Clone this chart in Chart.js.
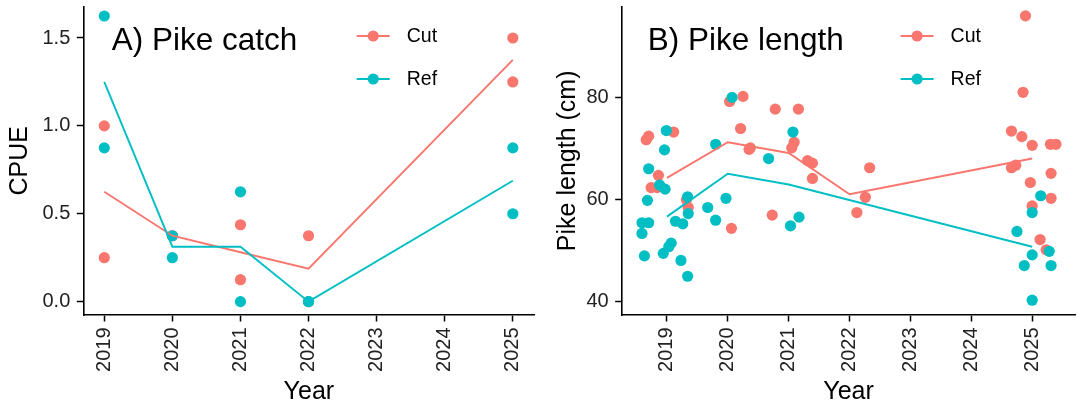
<!DOCTYPE html>
<html>
<head>
<meta charset="utf-8">
<title>Pike catch and length</title>
<script src="https://cdn.jsdelivr.net/npm/chart.js@4.4.1/dist/chart.umd.min.js"></script>
<style>
  html, body { margin: 0; padding: 0; background: #ffffff; }
  #wrap { position: relative; width: 1081px; height: 407px; overflow: hidden; }
  .panel { position: absolute; top: 0; height: 407px; }
  #catchPanel { left: 0; width: 540px; }
  #lengthPanel { left: 540px; width: 541px; }
</style>
</head>
<body>
<div id="wrap">
  <div class="panel" id="catchPanel"><canvas id="catchChart"></canvas></div>
  <div class="panel" id="lengthPanel"><canvas id="lengthChart"></canvas></div>
</div>
<script>
// ---- data ----
const groupNames = ['Cut', 'Ref'];
const yearTicks = [2019, 2020, 2021, 2022, 2023, 2024, 2025];

// A) CPUE per sampling, two per group and year
const catchYears = [2019, 2019, 2020, 2020, 2021, 2021, 2022, 2022, 2025, 2025];
const catchCut = [1.0, 0.25, 0.375, 0.375, 0.4375, 0.125, 0.375, 0.0, 1.5, 1.25];
const catchRef = [1.625, 0.875, 0.375, 0.25, 0.625, 0.0, 0.0, 0.0, 0.875, 0.5];
const catchMeanYears = [2019, 2020, 2021, 2022, 2025];
const catchMeanCut = [0.625, 0.375, 0.28125, 0.1875, 1.375];
const catchMeanRef = [1.25, 0.3125, 0.3125, 0.0, 0.6875];
const catchTicks = [0, 0.5, 1.0, 1.5];

// B) individual pike lengths (x jittered around the year)
const lengthCutX = [2018.66, 2018.70, 2019.11, 2018.86, 2018.74, 2018.84, 2019.32, 2019.35,
  2020.03, 2020.06, 2020.25, 2020.21, 2020.35, 2020.37,
  2020.78, 2021.16, 2021.09, 2021.05, 2021.31, 2021.39, 2021.39, 2020.73,
  2022.12, 2022.26, 2022.33,
  2024.89, 2024.85, 2024.66, 2024.83, 2025.00, 2025.30, 2025.39, 2024.66, 2024.73,
  2025.31, 2024.97, 2025.31, 2025.00, 2025.13, 2025.23];
const lengthCut = [71.7, 72.4, 73.2, 64.7, 62.3, 62.3, 59.9, 58.4,
  79.2, 54.3, 80.2, 73.9, 69.8, 70.1,
  77.7, 77.7, 71.2, 70.1, 67.6, 67.1, 64.1, 56.9,
  57.4, 60.4, 66.2,
  96.0, 81.0, 73.4, 72.3, 70.6, 70.8, 70.8, 66.2, 66.7,
  65.1, 63.3, 60.2, 58.7, 52.1, 50.1];
const lengthRefX = [2018.99, 2018.96, 2018.70, 2018.88, 2018.97, 2018.68, 2018.59, 2018.70,
  2018.59, 2018.63, 2019.34, 2019.35, 2019.14, 2019.26, 2019.07, 2019.03, 2018.94,
  2019.23, 2019.34,
  2019.67, 2019.80, 2019.80, 2019.97, 2020.07,
  2021.07, 2020.67, 2021.03, 2021.17,
  2025.14, 2025.00, 2024.75, 2025.00, 2025.28, 2024.87, 2025.31, 2025.00];
const lengthRef = [73.5, 69.7, 66.0, 62.8, 62.0, 59.8, 55.4, 55.4,
  53.3, 48.9, 60.5, 57.2, 55.7, 55.2, 51.4, 50.7, 49.4,
  48.0, 44.9,
  58.4, 70.8, 55.9, 60.2, 80.0,
  73.2, 68.0, 54.8, 56.5,
  60.7, 57.4, 53.7, 49.1, 49.8, 47.0, 47.0, 40.2];
const lengthMeanCutYears = [2019, 2020, 2021, 2022, 2025];
const lengthMeanCut = [64.2, 71.2, 69.1, 61.0, 68.0];
const lengthMeanRefYears = [2019, 2020, 2021, 2025];
const lengthMeanRef = [56.6, 65.0, 62.9, 50.7];
const lengthTicks = [40, 60, 80];

// ---- styling ----
const CUT_COLOR = '#F8766D';
const REF_COLOR = '#00BFC4';
const FONT = "'Liberation Sans', Arial, Helvetica, sans-serif";

function toXY(xs, ys) {
    return xs.map((x, i) => ({ x: x, y: ys[i] }));
}

// Panel title and legend drawn inside the plotting area (ggplot style)
const insideLabels = {
    id: 'insideLabels',
    afterDraw(chart, args, opts) {
        const ctx = chart.ctx;
        const area = chart.chartArea;
        ctx.save();
        ctx.fillStyle = '#000';
        ctx.font = '31.5px ' + FONT;
        ctx.textAlign = 'left';
        ctx.textBaseline = 'alphabetic';
        ctx.fillText(opts.title, area.left + opts.titleOffset, 49.5);

        const colors = [CUT_COLOR, REF_COLOR];
        const rows = [36, 79];
        groupNames.forEach((name, i) => {
            const x0 = area.left + opts.legendOffset;
            const y = rows[i];
            ctx.strokeStyle = colors[i];
            ctx.lineWidth = 1.8;
            ctx.beginPath();
            ctx.moveTo(x0, y);
            ctx.lineTo(x0 + 33, y);
            ctx.stroke();
            ctx.fillStyle = colors[i];
            ctx.beginPath();
            ctx.arc(x0 + 16.5, y, 5.6, 0, Math.PI * 2);
            ctx.fill();
            ctx.fillStyle = '#000';
            ctx.font = '19.5px ' + FONT;
            ctx.textBaseline = 'middle';
            ctx.fillText(name, x0 + 50, y + 1);
        });
        ctx.restore();
    }
};

function makePanel(canvasId, p) {
    const ctx = document.getElementById(canvasId);
    return new Chart(ctx, {
        type: 'scatter',
        data: {
            datasets: [
                {
                    label: 'Cut mean',
                    data: toXY(p.meanCutX, p.meanCut),
                    showLine: true,
                    borderColor: CUT_COLOR,
                    borderWidth: 1.9,
                    pointRadius: 0,
                    order: 1
                },
                {
                    label: 'Ref mean',
                    data: toXY(p.meanRefX, p.meanRef),
                    showLine: true,
                    borderColor: REF_COLOR,
                    borderWidth: 1.9,
                    pointRadius: 0,
                    order: 0
                },
                {
                    label: 'Ref',
                    data: toXY(p.refX, p.ref),
                    backgroundColor: REF_COLOR,
                    borderWidth: 0,
                    pointRadius: 5.6,
                    order: 2
                },
                {
                    label: 'Cut',
                    data: toXY(p.cutX, p.cut),
                    backgroundColor: CUT_COLOR,
                    borderWidth: 0,
                    pointRadius: 5.6,
                    order: 3
                }
            ]
        },
        options: {
            responsive: true,
            maintainAspectRatio: false,
            animation: false,
            events: [],
            clip: false,
            layout: {
                padding: { top: 6.7, right: p.padRight, left: 0, bottom: 0 }
            },
            plugins: {
                legend: { display: false },
                tooltip: { enabled: false },
                insideLabels: {
                    title: p.title,
                    titleOffset: p.titleOffset,
                    legendOffset: p.legendOffset
                }
            },
            scales: {
                x: {
                    type: 'linear',
                    min: p.xMin,
                    max: p.xMax,
                    afterBuildTicks: axis => { axis.ticks = yearTicks.map(v => ({ value: v })); },
                    afterFit: axis => {
                        axis.height = 92;
                        axis.paddingLeft = 0;
                        axis.paddingRight = 0;
                    },
                    ticks: {
                        minRotation: 90,
                        maxRotation: 90,
                        autoSkip: false,
                        padding: 6,
                        color: '#222',
                        font: { family: FONT, size: 20 },
                        callback: v => String(v)
                    },
                    grid: {
                        drawOnChartArea: false,
                        drawTicks: true,
                        tickLength: 6.5,
                        tickWidth: 1.5,
                        color: '#000'
                    },
                    border: { display: true, color: '#000', width: 1.6 },
                    title: {
                        display: true,
                        text: 'Year',
                        color: '#000',
                        font: { family: FONT, size: 25 },
                        padding: { top: 0, bottom: 0 }
                    }
                },
                y: {
                    type: 'linear',
                    min: p.yMin,
                    max: p.yMax,
                    afterBuildTicks: axis => { axis.ticks = p.yTicks.map(v => ({ value: v })); },
                    afterFit: axis => {
                        axis.width = p.yAxisWidth;
                        axis.paddingTop = 0;
                        axis.paddingBottom = 0;
                    },
                    ticks: {
                        padding: 6.5,
                        color: '#222',
                        font: { family: FONT, size: 20 },
                        callback: p.yFormat
                    },
                    grid: {
                        drawOnChartArea: false,
                        drawTicks: true,
                        tickLength: 6.5,
                        tickWidth: 1.5,
                        color: '#000'
                    },
                    border: { display: true, color: '#000', width: 1.6 },
                    title: {
                        display: true,
                        text: p.yTitle,
                        color: '#000',
                        font: { family: FONT, size: 25 },
                        padding: { top: p.yTitlePad, bottom: 0 }
                    }
                }
            }
        },
        plugins: [insideLabels]
    });
}

makePanel('catchChart', {
    title: 'A) Pike catch',
    titleOffset: 28.4,
    legendOffset: 273.4,
    yTitle: 'CPUE',
    yTitlePad: 5.5,
    yAxisWidth: 83.3,
    padRight: 4.3,
    xMin: 2018.692, xMax: 2025.317,
    yMin: -0.076, yMax: 1.678,
    yTicks: catchTicks,
    yFormat: v => v.toFixed(1),
    cutX: catchYears, cut: catchCut,
    refX: catchYears, ref: catchRef,
    meanCutX: catchMeanYears, meanCut: catchMeanCut,
    meanRefX: catchMeanYears, meanRef: catchMeanRef
});

makePanel('lengthChart', {
    title: 'B) Pike length',
    titleOffset: 26,
    legendOffset: 278.9,
    yTitle: 'Pike length (cm)',
    yTitlePad: 13,
    yAxisWidth: 81.7,
    padRight: 2,
    xMin: 2018.257, xMax: 2025.71,
    yMin: 37.3, yMax: 97.8,
    yTicks: lengthTicks,
    yFormat: v => String(v),
    cutX: lengthCutX, cut: lengthCut,
    refX: lengthRefX, ref: lengthRef,
    meanCutX: lengthMeanCutYears, meanCut: lengthMeanCut,
    meanRefX: lengthMeanRefYears, meanRef: lengthMeanRef
});
</script>
</body>
</html>
